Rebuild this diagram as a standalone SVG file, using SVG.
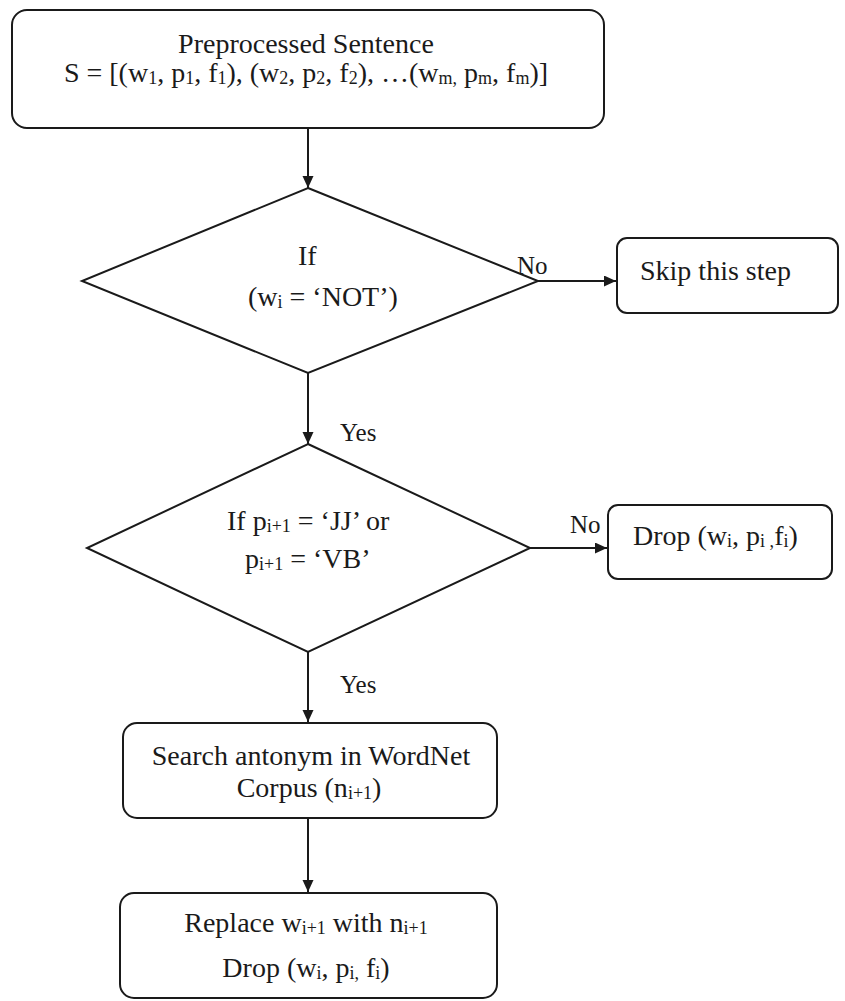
<svg xmlns="http://www.w3.org/2000/svg" width="845" height="1001" viewBox="0 0 845 1001">
<style>
.shape{fill:#fff;stroke:#1a1a1a;stroke-width:2}
.conn{stroke:#1a1a1a;stroke-width:2;fill:none}
text{font-family:"Liberation Serif","Times New Roman",serif;font-size:28px;fill:#1a1a1a}
.sub{font-size:18px}
.lbl{font-size:25px}
.m{text-anchor:middle}
</style>
<defs>
<marker id="arr" markerUnits="userSpaceOnUse" markerWidth="13" markerHeight="12" refX="12" refY="5.5" orient="auto">
<path d="M0,0 L12,5.5 L0,11 z" fill="#1a1a1a"/>
</marker>
</defs>
<rect width="845" height="1001" fill="#fff"/>
<g id="connectors">
<line class="conn" x1="308" y1="128" x2="308" y2="188" marker-end="url(#arr)"/>
<line class="conn" x1="538" y1="281" x2="616" y2="281" marker-end="url(#arr)"/>
<line class="conn" x1="308" y1="373" x2="308" y2="444" marker-end="url(#arr)"/>
<line class="conn" x1="530" y1="548" x2="607" y2="548" marker-end="url(#arr)"/>
<line class="conn" x1="308" y1="652" x2="308" y2="722" marker-end="url(#arr)"/>
<line class="conn" x1="308" y1="818" x2="308" y2="892" marker-end="url(#arr)"/>
<text class="lbl" x="517" y="274">No</text>
<text class="lbl" x="340" y="441">Yes</text>
<text class="lbl" x="570" y="533">No</text>
<text class="lbl" x="340" y="693">Yes</text>
</g>
<g id="start">
<rect class="shape" x="12" y="10" width="592" height="118" rx="15"/>
<text class="m" x="306" y="53">Preprocessed Sentence</text>
<text class="m" x="306" y="82">S = [(w<tspan class="sub" dy="2">1</tspan><tspan dy="-2">, p</tspan><tspan class="sub" dy="2">1</tspan><tspan dy="-2">, f</tspan><tspan class="sub" dy="2">1</tspan><tspan dy="-2">), (w</tspan><tspan class="sub" dy="2">2</tspan><tspan dy="-2">,  p</tspan><tspan class="sub" dy="2">2</tspan><tspan dy="-2">, f</tspan><tspan class="sub" dy="2">2</tspan><tspan dy="-2">), …(w</tspan><tspan class="sub" dy="2">m,</tspan><tspan dy="-2"> p</tspan><tspan class="sub" dy="2">m</tspan><tspan dy="-2">, f</tspan><tspan class="sub" dy="2">m</tspan><tspan dy="-2">)]</tspan></text>
</g>
<g id="decision1">
<polygon class="shape" points="308,188 538,281 308,373 82,281"/>
<text x="298" y="265">If</text>
<text x="248" y="306">(w<tspan class="sub" dy="2">i</tspan><tspan dy="-2"> = ‘NOT’)</tspan></text>
</g>
<g id="skip">
<rect class="shape" x="617" y="238" width="221" height="75" rx="10"/>
<text x="640" y="280">Skip this step</text>
</g>
<g id="decision2">
<polygon class="shape" points="308,444 530,548 308,652 87,548"/>
<text x="227" y="530">If p<tspan class="sub" dy="2">i+1</tspan><tspan dy="-2"> = ‘JJ’ or</tspan></text>
<text x="245" y="568">p<tspan class="sub" dy="2">i+1</tspan><tspan dy="-2"> = ‘VB’</tspan></text>
</g>
<g id="drop">
<rect class="shape" x="608" y="505" width="224" height="74" rx="10"/>
<text x="633" y="545">Drop (w<tspan class="sub" dy="2">i</tspan><tspan dy="-2">, p</tspan><tspan class="sub" dy="2">i ,</tspan><tspan dy="-2">f</tspan><tspan class="sub" dy="2">i</tspan><tspan dy="-2">)</tspan></text>
</g>
<g id="search">
<rect class="shape" x="123" y="723" width="374" height="95" rx="14"/>
<text class="m" x="311" y="765">Search antonym in WordNet</text>
<text class="m" x="309" y="797">Corpus (n<tspan class="sub" dy="2">i+1</tspan><tspan dy="-2">)</tspan></text>
</g>
<g id="replace">
<rect class="shape" x="120" y="893" width="377" height="105" rx="14"/>
<text class="m" x="306" y="932">Replace w<tspan class="sub" dy="2">i+1</tspan><tspan dy="-2"> with n</tspan><tspan class="sub" dy="2">i+1</tspan></text>
<text class="m" x="306" y="977">Drop (w<tspan class="sub" dy="2">i</tspan><tspan dy="-2">, p</tspan><tspan class="sub" dy="2">i,</tspan><tspan dy="-2"> f</tspan><tspan class="sub" dy="2">i</tspan><tspan dy="-2">)</tspan></text>
</g>
</svg>
